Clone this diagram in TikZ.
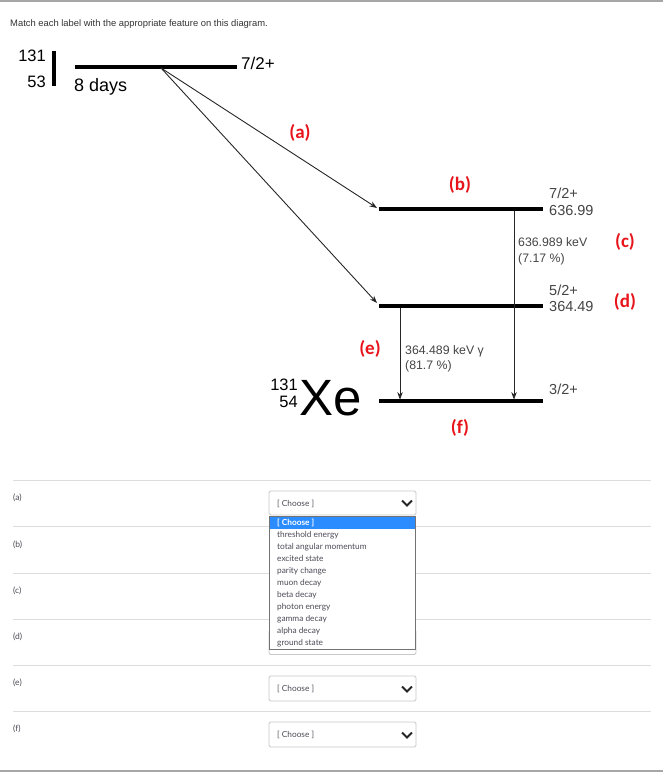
\documentclass[tikz,border=0pt]{standalone}
\usepackage{fontspec}
\setmainfont{Liberation Sans}
\newfontfamily\lblfont{Carlito}
\newfontfamily\latofont{Lato}
\usetikzlibrary{arrows.meta}
\definecolor{redlab}{HTML}{E8141B}
\definecolor{numgray}{HTML}{444444}
\definecolor{formgray}{HTML}{4E4A56}
\definecolor{sepgray}{HTML}{DDDDDD}
\definecolor{boxgray}{HTML}{C8C8C8}
\definecolor{hiblue}{HTML}{2B8CFF}
\newcommand{\fs}[1]{\fontsize{#1}{#1}\selectfont}
\begin{document}
\begin{tikzpicture}[x=1pt,y=-1pt,
  levelline/.style={line width=3.4pt},
  decay/.style={line width=0.9pt, draw=black!85, -{Stealth[length=7.5pt,width=5.5pt]}},
  txt/.style={inner sep=0pt, anchor=base west},
  redtag/.style={inner sep=0pt, text=redlab, font=\lblfont\bfseries\fs{19}},
  rowlab/.style={inner sep=0pt, anchor=base west, text=formgray, font=\latofont\fs{8.5}},
  item/.style={inner sep=0pt, anchor=base west, text=formgray, font=\latofont\fs{8.3}},
  selbox/.style={draw=boxgray, line width=0.8pt, rounded corners=1.5pt, fill=white},
  chev/.style={line width=1.8pt, draw=black!85},
  sep/.style={draw=sepgray, line width=0.9pt},
  frame/.style={draw=black!35, line width=1.6pt}
]
\useasboundingbox (0,0) rectangle (663,776);
% frame lines
\draw[frame] (0,1) -- (663,1);
\draw[frame] (0,771) -- (663,771);
\node[txt, font=\fs{9.4}, text=black!80] (title) at (10,27) {Match each label with the appropriate feature on this diagram.};

% parent nucleus
\node[inner sep=0pt, anchor=base east, font=\fs{16.5}] (pA) at (46,62) {131};
\node[inner sep=0pt, anchor=base east, font=\fs{16.5}] (pZ) at (46,87) {53};
\draw[line width=3.6pt] (54,51) -- (54,86);
\coordinate (t0) at (75,67);
\coordinate (t1) at (237,67);
\draw[levelline] (t0) -- (t1);
\node[txt, font=\fs{17}] (tspin) at (241,70) {7/2+};
\node[txt, font=\fs{18}] (thalf) at (74,92) {8 days};

% daughter levels
\coordinate (b0) at (379,209); \coordinate (b1) at (543,209);
\coordinate (d0) at (379,306); \coordinate (d1) at (543,306);
\coordinate (g0) at (379,401); \coordinate (g1) at (543,401);
\draw[levelline] (b0) -- (b1);
\draw[levelline] (d0) -- (d1);
\draw[levelline] (g0) -- (g1);

\node[txt, font=\fs{14.5}, text=numgray] (bspin) at (549,198) {7/2+};
\node[txt, font=\fs{14.5}, text=numgray] (ben) at (549,215) {636.99};
\node[txt, font=\fs{14.5}, text=numgray] (dspin) at (549,295) {5/2+};
\node[txt, font=\fs{14.5}, text=numgray] (den) at (549,311) {364.49};
\node[txt, font=\fs{14.5}, text=numgray] (gspin) at (549,394) {3/2+};

% beta branches
\coordinate (src) at (161,68);
\coordinate (tb) at (377,208);
\coordinate (td) at (377,303);
\draw[decay] (src) -- (tb);
\draw[decay] (src) -- (td);

% gamma transitions
\coordinate (ga0) at (400,307.5); \coordinate (ga1) at (400,399.6);
\coordinate (gb0) at (514,210.5); \coordinate (gb1) at (514,399.6);
\draw[decay] (ga0) -- (ga1);
\draw[decay] (gb0) -- (gb1);
\node[txt, font=\fs{12.3}, text=numgray] (gbl1) at (518,246) {636.989 keV};
\node[txt, font=\fs{12.3}, text=numgray] (gbl2) at (518,262) {(7.17 \%)};
\node[txt, font=\fs{12.3}, text=numgray] (gal1) at (405,354) {364.489 keV γ};
\node[txt, font=\fs{12.3}, text=numgray] (gal2) at (405,369) {(81.7 \%)};

% daughter nucleus
\node[inner sep=0pt, anchor=base west, font=\fs{51}] (xe) at (299,415) {Xe};
\node[inner sep=0pt, anchor=base east, font=\fs{16.5}] (xa) at (298,390) {131};
\node[inner sep=0pt, anchor=base east, font=\fs{16.5}] (xz) at (298,407) {54};

% red tags
\node[redtag] (la) at (300,133) {(a)};
\node[redtag] (lb) at (460,185) {(b)};
\node[redtag] (lc) at (625,242) {(c)};
\node[redtag] (ld) at (625,302) {(d)};
\node[redtag] (le) at (370,349) {(e)};
\node[redtag] (lf) at (460,428) {(f)};

% form rows
\foreach \yy in {480,526,573,619,665,711} {\draw[sep] (13,\yy) -- (651,\yy);}
\node[rowlab] (ra) at (13,500) {(a)};
\node[rowlab] (rb) at (13,547) {(b)};
\node[rowlab] (rc) at (13,593) {(c)};
\node[rowlab] (rd) at (13,639) {(d)};
\node[rowlab] (re) at (13,685) {(e)};
\node[rowlab] (rf) at (13,731) {(f)};

% select boxes
\draw[selbox] (269,491) rectangle (416,515);
\node[item] (sa) at (277,506) {[ Choose ]};
\draw[chev] (402,500.5) -- (407,505.5) -- (412,500.5);

\draw[selbox] (269,630) rectangle (416,654.5);

\draw[selbox] (269,676) rectangle (416,701);
\node[item] (se) at (277,691.5) {[ Choose ]};
\draw[chev] (402,686.5) -- (407,691.5) -- (412,686.5);

\draw[selbox] (269,722) rectangle (416,747);
\node[item] (sf) at (277,737.5) {[ Choose ]};
\draw[chev] (402,732.5) -- (407,737.5) -- (412,732.5);

% open list
\draw[draw=black!55, fill=white, line width=1pt] (269.5,516) rectangle (415.5,649.5);
\fill[hiblue] (270,516.5) rectangle (415,528.5);
\node[item, text=white, font=\latofont\bfseries\fs{8.3}] (i0) at (277,525.2) {[ Choose ]};
\node[item] (i1) at (277,537.2) {threshold energy};
\node[item] (i2) at (277,549.2) {total angular momentum};
\node[item] (i3) at (277,561.2) {excited state};
\node[item] (i4) at (277,573.2) {parity change};
\node[item] (i5) at (277,585.2) {muon decay};
\node[item] (i6) at (277,597.2) {beta decay};
\node[item] (i7) at (277,609.2) {photon energy};
\node[item] (i8) at (277,621.2) {gamma decay};
\node[item] (i9) at (277,633.2) {alpha decay};
\node[item] (i10) at (277,645.2) {ground state};
\end{tikzpicture}
\end{document}
